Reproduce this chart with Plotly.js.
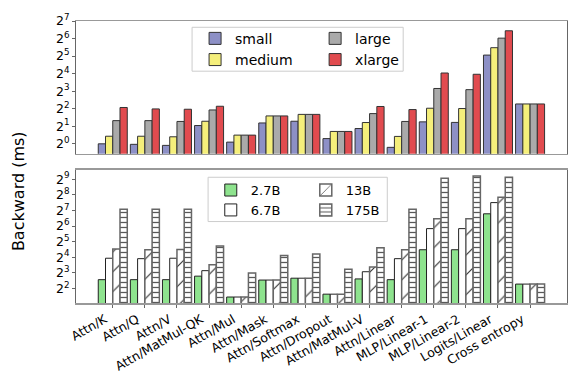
<!DOCTYPE html>
<html>
<head>
<meta charset="utf-8">
<script src="https://cdn.plot.ly/plotly-3.0.1.min.js"></script>
<style>
  html, body { margin: 0; padding: 0; background: #fff; }
  #chart { width: 581px; height: 388px; }
</style>
</head>
<body>
<div id="chart"></div>
<script>
// categories (shared x axis)
const categories = ['Attn/K','Attn/Q','Attn/V','Attn/MatMul-QK','Attn/Mul','Attn/Mask','Attn/Softmax',
    'Attn/Dropout','Attn/MatMul-V','Attn/Linear','MLP/Linear-1','MLP/Linear-2','Logits/Linear','Cross entropy'];

// top panel - backward time (ms)
const small  = [1.00, 0.98, 0.94, 2.06, 1.07, 2.28, 2.44, 1.23, 1.83, 0.87, 2.38, 2.33, 33.3, 4.83];
const medium = [1.35, 1.35, 1.32, 2.44, 1.41, 3.01, 3.20, 1.63, 2.32, 1.34, 4.08, 4.03, 44.6, 4.83];
const large  = [2.50, 2.50, 2.42, 3.81, 1.41, 3.01, 3.20, 1.63, 3.30, 2.42, 8.9, 8.5, 65, 4.83];
const xlarge = [4.20, 3.97, 3.92, 4.41, 1.41, 3.01, 3.20, 1.63, 4.37, 3.87, 16.4, 15.6, 87, 4.83];

// bottom panel - backward time (ms)
const b2_7B = [5.9, 5.9, 5.9, 6.9, 2.73, 5.8, 6.3, 3.1, 6.1, 5.9, 22.3, 22.3, 110, 4.85];
const b6_7B = [15.3, 15.0, 15.3, 8.8, 2.73, 5.8, 6.3, 3.1, 8.4, 15.0, 57, 57, 181, 4.85];
const b13B  = [23, 22.3, 22.6, 11.5, 2.73, 5.8, 6.3, 3.1, 10.4, 22.3, 88, 88, 230, 4.85];
const b175B = [135, 135, 135, 26.2, 7.9, 17.2, 18.4, 9.4, 24.3, 135, 534, 590, 560, 4.85];

// log2 tick labels
const topTicks = [0,1,2,3,4,5,6,7];
const botTicks = [2,3,4,5,6,7,8,9];

const FONT = 'DejaVu Sans, sans-serif';

function bar(name, y, color, opts){
    opts = opts || {};
    return {
        type: 'bar', name: name, x: categories, y: y,
        xaxis: opts.xaxis || 'x', yaxis: opts.yaxis || 'y',
        legend: opts.legend || 'legend',
        marker: {
            color: color,
            line: {color: opts.edge || '#333', width: opts.edgeWidth || 1},
            pattern: opts.pattern
        },
        hoverinfo: 'skip'
    };
}

let data = [
    bar('small',  small,  '#8d90c6', {legend: 'legend'}),
    bar('medium', medium, '#f5ef7b', {legend: 'legend'}),
    bar('large',  large,  '#aaaaaa', {legend: 'legend2'}),
    bar('xlarge', xlarge, '#e14b4f', {legend: 'legend2'}),
    bar('2.7B', b2_7B, '#8ee38e', {xaxis: 'x2', yaxis: 'y2', legend: 'legend3', edge: '#222'}),
    bar('6.7B', b6_7B, '#ffffff', {xaxis: 'x2', yaxis: 'y2', legend: 'legend3', edge: '#222'}),
    bar('13B',  b13B,  '#ffffff', {xaxis: 'x2', yaxis: 'y2', legend: 'legend4', edge: '#666', edgeWidth: 1.5,
        pattern: {shape: '/', size: 14, solidity: 0.08, fgcolor: '#333', bgcolor: '#fff', fillmode: 'replace'}}),
    bar('175B', b175B, '#ffffff', {xaxis: 'x2', yaxis: 'y2', legend: 'legend4', edge: '#666', edgeWidth: 1.5,
        pattern: {shape: '-', size: 5, solidity: 0.25, fgcolor: '#555', bgcolor: '#fff', fillmode: 'replace'}})
];

const xr = [-1.145, 14.15];
function logAxis(dom, exps, lo, hi){
    return {
        type: 'log', domain: dom,
        range: [lo*Math.log10(2), hi*Math.log10(2)],
        tickvals: exps.map(e => Math.pow(2, e)),
        ticktext: exps.map(e => '2<sup>' + e + '</sup>'),
        ticks: 'outside', ticklen: 3, tickcolor: '#666',
        showgrid: false, zeroline: false,
        showline: true, linecolor: '#666', linewidth: 1, mirror: true,
        tickfont: {family: FONT, size: 12.5, color: '#000'}
    };
}
function legendAt(x, y, size){
    return {
        x: x, y: y, xanchor: 'left', yanchor: 'top', xref: 'paper', yref: 'paper',
        bgcolor: 'rgba(0,0,0,0)', borderwidth: 0,
        font: {family: FONT, size: size, color: '#000'},
        tracegroupgap: 0, itemclick: false
    };
}

let layout = {
    width: 581, height: 388,
    margin: {l: 76, r: 14.3, t: 20.7, b: 84.7},
    paper_bgcolor: '#fff', plot_bgcolor: '#fff',
    barmode: 'group', bargap: 0.096, bargroupgap: 0,
    showlegend: true,
    font: {family: FONT, color: '#000'},
    xaxis: {
        range: xr, anchor: 'y', showticklabels: false, ticks: '',
        showgrid: false, zeroline: false,
        showline: true, linecolor: '#999', linewidth: 1.5, mirror: true
    },
    yaxis: logAxis([0.529, 1], topTicks, -0.57, 7.0),
    xaxis2: {
        range: xr, anchor: 'y2', ticks: 'outside', ticklen: 3, tickcolor: '#666',
        tickangle: -30, ticklabelshift: -8,
        tickfont: {family: FONT, size: 12.5, color: '#000'},
        showgrid: false, zeroline: false,
        showline: true, linecolor: '#999', linewidth: 1.5, mirror: true
    },
    yaxis2: logAxis([0, 0.4717], botTicks, 1.066, 9.59),
    legend: legendAt(0.2425, 0.9937, 14),
    legend2: legendAt(0.487, 0.9937, 14),
    legend3: legendAt(0.2745, 0.4536, 13),
    legend4: legendAt(0.468, 0.4536, 13),
    shapes: [
        {type: 'rect', xref: 'paper', yref: 'paper', x0: 0.2364, x1: 0.6664, y0: 0.822, y1: 0.9777,
         line: {color: '#cccccc', width: 1}, fillcolor: 'rgba(255,255,255,0.85)', layer: 'above'},
        {type: 'rect', xref: 'paper', yref: 'paper', x0: 0.269, x1: 0.634, y0: 0.2888, y1: 0.4459,
         line: {color: '#cccccc', width: 1}, fillcolor: 'rgba(255,255,255,0.85)', layer: 'above'}
    ],
    annotations: [{
        text: 'Backward (ms)', textangle: -90, showarrow: false,
        xref: 'paper', yref: 'paper', x: -0.118, y: 0.397,
        xanchor: 'center', yanchor: 'middle',
        font: {family: FONT, size: 16, color: '#000'}
    }]
};

Plotly.newPlot('chart', data, layout, {staticPlot: true, displayModeBar: false});
</script>
</body>
</html>
